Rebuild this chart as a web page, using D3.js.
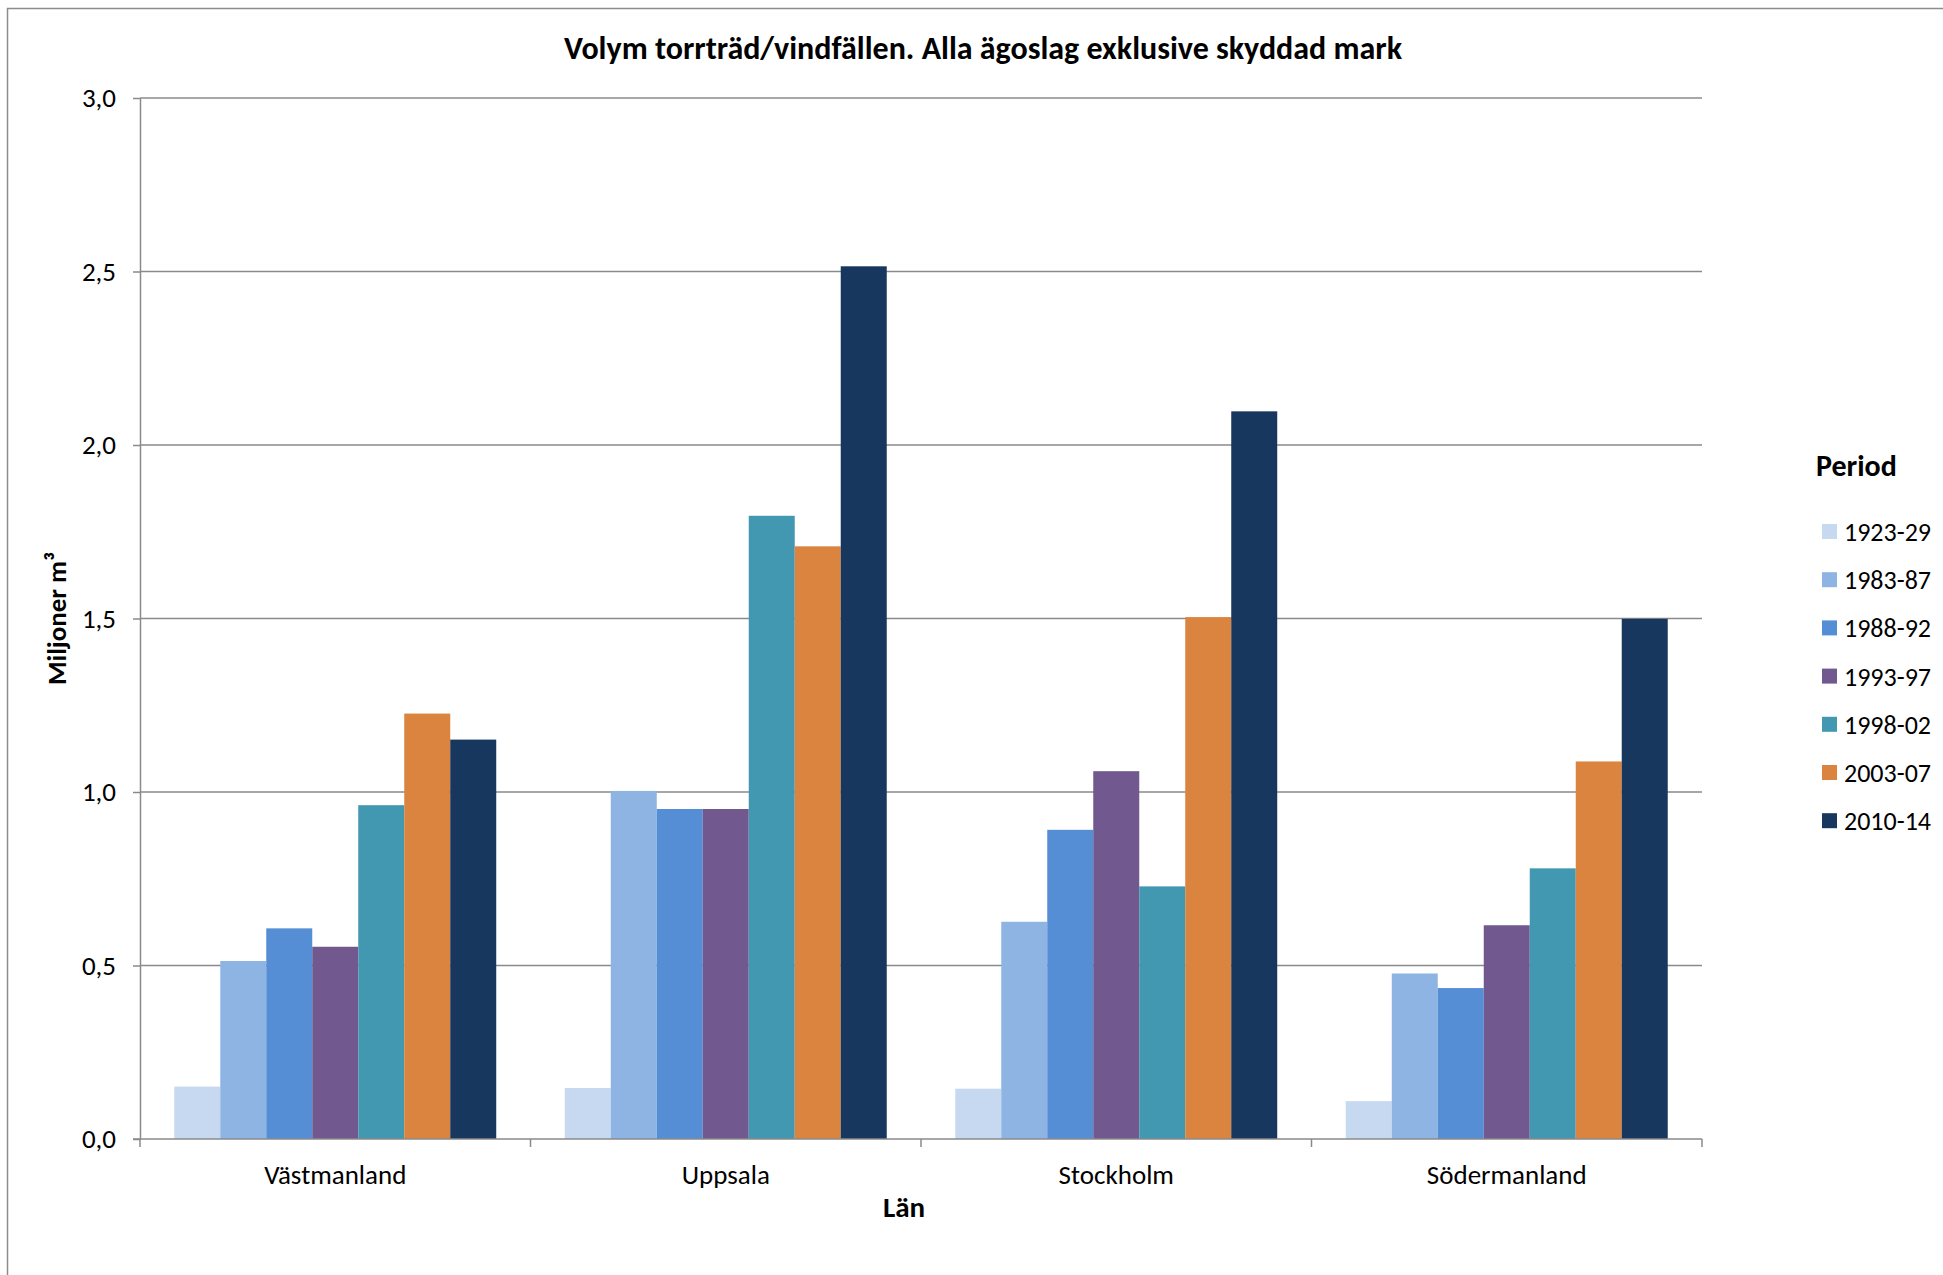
<!DOCTYPE html>
<html><head><meta charset="utf-8">
<script src="https://cdn.jsdelivr.net/npm/d3@7"></script>
<style>
html,body{margin:0;padding:0;background:#fff;}
svg{display:block;font-family:Carlito,Calibri,Lato,"Open Sans",sans-serif;}
</style></head>
<body>
<svg id="chart" width="1943" height="1275"></svg>
<script>
const categories = ["Västmanland", "Uppsala", "Stockholm", "Södermanland"];
const periods = ["1923-29", "1983-87", "1988-92", "1993-97", "1998-02", "2003-07", "2010-14"];
const colors = ["#C6D9F1", "#8EB4E3", "#558ED5", "#71588F", "#4298B0", "#DA843F", "#18375E"];
const v1923_29 = [0.151, 0.147, 0.145, 0.109];
const v1983_87 = [0.513, 1.003, 0.626, 0.477];
const v1988_92 = [0.607, 0.951, 0.891, 0.435];
const v1993_97 = [0.554, 0.951, 1.060, 0.616];
const v1998_02 = [0.962, 1.796, 0.728, 0.780];
const v2003_07 = [1.226, 1.708, 1.504, 1.088];
const v2010_14 = [1.151, 2.515, 2.097, 1.499];
const yTicks = [0, 0.5, 1.0, 1.5, 2.0, 2.5, 3.0];
const title = "Volym torrträd/vindfällen. Alla ägoslag exklusive skyddad mark";
const yTitle = "Miljoner m³";
const xTitle = "Län";
const legendTitle = "Period";

const series = [v1923_29, v1983_87, v1988_92, v1993_97, v1998_02, v2003_07, v2010_14];

const svg = d3.select("#chart");
const L = 140, R = 1702, T = 98, B = 1139;

// outer frame
svg.append("path").attr("d", "M7.5,1275 V8.5 H1943")
  .attr("fill", "none").attr("stroke", "#8c8c8c").attr("stroke-width", 1.5);

const x0 = d3.scaleBand().domain(categories).range([L, R]).paddingInner(0).paddingOuter(0);
const x1 = d3.scaleBand().domain(periods).range([0, x0.bandwidth()]).paddingInner(0).paddingOuter(0.745);
const y = d3.scaleLinear().domain([0, 3]).range([B, T]);

// gridlines
svg.append("g").selectAll("line").data(yTicks.filter(d => d > 0)).join("line")
  .attr("x1", L).attr("x2", R).attr("y1", d => y(d)).attr("y2", d => y(d))
  .attr("stroke", "#8a8a8a").attr("stroke-width", 1.5);

// bars
const g = svg.append("g");
categories.forEach((c, ci) => {
  g.append("g").selectAll("rect").data(periods).join("rect")
    .attr("x", p => x0(c) + x1(p))
    .attr("width", x1.bandwidth())
    .attr("y", (p, pi) => y(series[pi][ci]))
    .attr("height", (p, pi) => y(0) - y(series[pi][ci]))
    .attr("fill", (p, pi) => colors[pi]);
});

// y axis
const yAxis = d3.axisLeft(y).tickValues(yTicks).tickSizeInner(7).tickSizeOuter(0)
  .tickFormat(d => d3.format(".1f")(d).replace(".", ","));
const ya = svg.append("g").attr("transform", `translate(${L},0)`).call(yAxis);
ya.select(".domain").attr("stroke", "#8a8a8a").attr("stroke-width", 1.5);
ya.selectAll(".tick line").attr("stroke", "#8a8a8a").attr("stroke-width", 1.5);
ya.selectAll(".tick text").attr("x", -24).attr("font-size", 27).attr("fill", "#000")
  .attr("font-family", "Carlito,Calibri,Lato,sans-serif");

// x axis
const xa = svg.append("g").attr("transform", `translate(0,${B})`);
xa.append("line").attr("x1", L - 7).attr("x2", R).attr("y1", 0).attr("y2", 0)
  .attr("stroke", "#8a8a8a").attr("stroke-width", 1.5);
const bounds = categories.map(c => x0(c)).concat([x0(categories[categories.length - 1]) + x0.bandwidth()]);
xa.selectAll("line.tk").data(bounds).join("line").attr("class", "tk")
  .attr("x1", d => d).attr("x2", d => d).attr("y1", 0).attr("y2", 8)
  .attr("stroke", "#8a8a8a").attr("stroke-width", 1.5);
xa.selectAll("text").data(categories).join("text")
  .attr("x", c => x0(c) + x0.bandwidth() / 2).attr("y", 45)
  .attr("text-anchor", "middle").attr("font-size", 27).attr("fill", "#000").text(c => c);

// titles
svg.append("text").attr("x", 983).attr("y", 59).attr("text-anchor", "middle")
  .attr("font-size", 32).attr("font-weight", "bold").text(title);
svg.append("text").attr("x", 904).attr("y", 1217).attr("text-anchor", "middle")
  .attr("font-size", 29).attr("font-weight", "bold").text(xTitle);
svg.append("text").attr("transform", `translate(66,${(T + B) / 2}) rotate(-90)`)
  .attr("text-anchor", "middle").attr("font-size", 27).attr("font-weight", "bold").text(yTitle);

// legend
const lg = svg.append("g");
lg.append("text").attr("x", 1816).attr("y", 476).attr("font-size", 30).attr("font-weight", "bold").text(legendTitle);
const li = lg.selectAll("g.item").data(periods).join("g").attr("class", "item")
  .attr("transform", (d, i) => `translate(1822,${524 + i * 48.2})`);
li.append("rect").attr("width", 15).attr("height", 15).attr("fill", (d, i) => colors[i]);
li.append("text").attr("x", 22).attr("y", 17).attr("font-size", 26).attr("fill", "#000").text(d => d);
</script>
</body></html>
